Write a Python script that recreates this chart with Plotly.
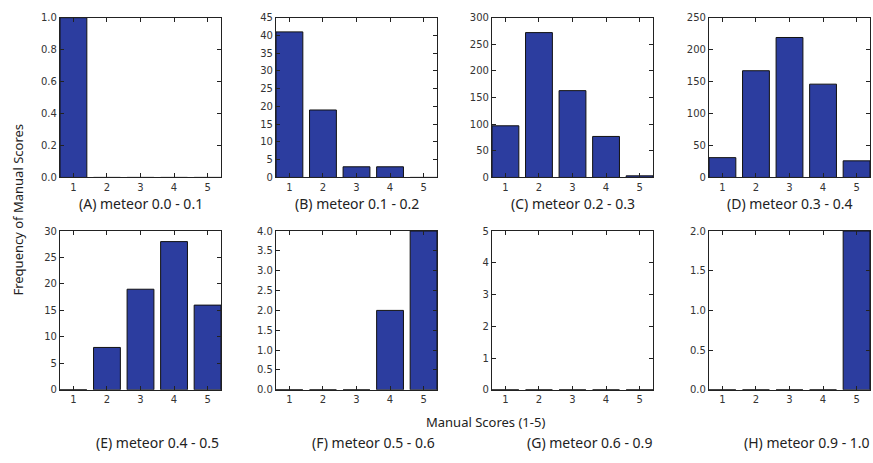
import plotly.graph_objects as go

scores = [1, 2, 3, 4, 5]
panel_titles = ["(A) meteor 0.0 - 0.1", "(B) meteor 0.1 - 0.2", "(C) meteor 0.2 - 0.3",
                "(D) meteor 0.3 - 0.4", "(E) meteor 0.4 - 0.5", "(F) meteor 0.5 - 0.6",
                "(G) meteor 0.6 - 0.9", "(H) meteor 0.9 - 1.0"]
freq_a = [1, 0, 0, 0, 0]
freq_b = [41, 19, 3, 3, 0]
freq_c = [97, 272, 163, 77, 3]
freq_d = [31, 167, 219, 146, 26]
freq_e = [0, 8, 19, 28, 16]
freq_f = [0, 0, 0, 2, 4]
freq_g = [0, 0, 0, 0, 0]
freq_h = [0, 0, 0, 0, 2]
all_freq = [freq_a, freq_b, freq_c, freq_d, freq_e, freq_f, freq_g, freq_h]
y_max = [1.0, 45, 300, 250, 30, 4.0, 5, 2.0]
y_dtick = [0.2, 5, 50, 50, 5, 0.5, 1, 0.5]
y_fmt = [".1f", "d", "d", "d", "d", ".1f", "d", ".1f"]

W, H = 873, 463
col_px = [(60, 221), (276, 437), (492, 653), (709, 870)]
row_px = [(12, 176), (231, 394)]


def px_x(x):
    return x / W


def px_y(y):
    return 1 - y / H


fig = go.Figure()
layout = dict(width=W, height=H, margin=dict(l=0, r=0, t=0, b=0),
              plot_bgcolor="white", paper_bgcolor="white", showlegend=False,
              font=dict(family="DejaVu Sans", color="#333"))
annotations = []
for i in range(8):
    r, c = divmod(i, 4)
    n = i + 1
    sfx = "" if n == 1 else str(n)
    fig.add_trace(go.Bar(x=scores, y=all_freq[i], width=0.8,
                         marker=dict(color="#2c3d9f", line=dict(color="#111", width=1)),
                         xaxis=f"x{sfx}", yaxis=f"y{sfx}"))
    x0, x1 = col_px[c]
    y0, y1 = row_px[r]
    common = dict(showline=True, linecolor="#222", linewidth=1.2, mirror="ticks",
                  ticks="inside", ticklen=4, tickcolor="#222", showgrid=False,
                  zeroline=False, tickfont=dict(size=10, color="#333", family="DejaVu Sans"))
    layout[f"xaxis{sfx}"] = dict(domain=[px_x(x0), px_x(x1)], range=[0.6, 5.4],
                                 tickvals=scores, anchor=f"y{sfx}", **common)
    layout[f"yaxis{sfx}"] = dict(domain=[px_y(y1), px_y(y0)], range=[0, y_max[i]],
                                 dtick=y_dtick[i], tick0=0, tickformat=y_fmt[i],
                                 anchor=f"x{sfx}", **common)
    cx = (x0 + x1) / 2 + (0 if r == 0 else 17)
    ty = 203 if r == 0 else 448
    annotations.append(dict(text=panel_titles[i], x=px_x(cx), y=px_y(ty), xref="paper",
                            yref="paper", showarrow=False, xanchor="center", yanchor="middle",
                            font=dict(size=14, family="Noto Sans", color="#222")))

annotations.append(dict(text="Frequency of Manual Scores", x=px_x(18), y=px_y(209),
                        xref="paper", yref="paper", showarrow=False, textangle=-90,
                        xanchor="center", yanchor="middle",
                        font=dict(size=13, family="Noto Sans", color="#222")))
annotations.append(dict(text="Manual Scores (1-5)", x=px_x(485), y=px_y(427),
                        xref="paper", yref="paper", showarrow=False,
                        xanchor="center", yanchor="middle",
                        font=dict(size=13, family="Noto Sans", color="#222")))
layout["annotations"] = annotations
fig.update_layout(**layout)
fig.write_html("out.html", config={"displayModeBar": False},
               post_script="document.body.style.margin='0';document.body.style.overflow='hidden';")
